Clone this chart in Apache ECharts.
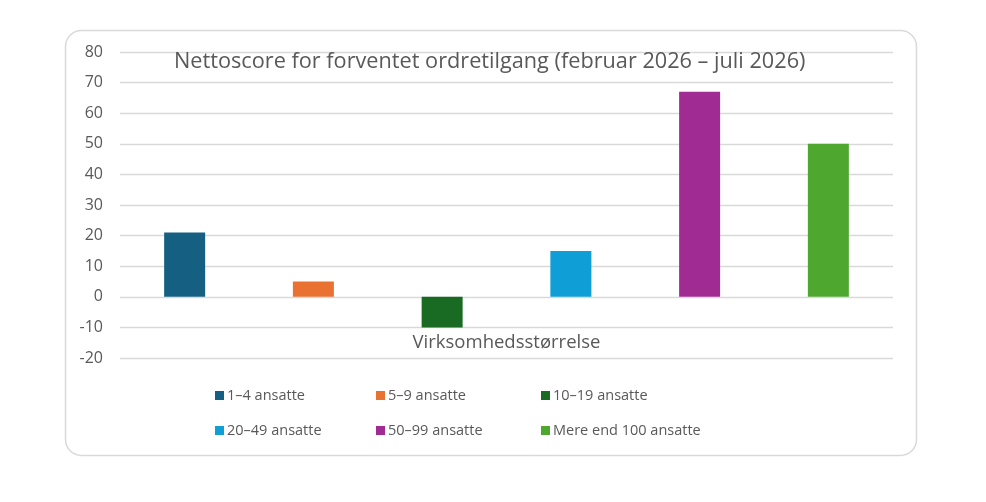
<!DOCTYPE html>
<html><head><meta charset="utf-8">
<script src="https://cdn.jsdelivr.net/npm/echarts@6/dist/echarts.min.js"></script>
<style>html,body{margin:0;padding:0;background:#fff}#c{width:986px;height:502px}</style>
</head><body><div id="c"></div>
<script>
const titleText = 'Nettoscore for forventet ordretilgang (februar 2026 – juli 2026)';
const categories = ['Virksomhedsstørrelse'];
const seriesNames = ['1–4 ansatte','5–9 ansatte','10–19 ansatte','20–49 ansatte','50–99 ansatte','Mere end 100 ansatte'];
const seriesValues = [21, 5, -10, 15, 67, 50];
const colors = ['#156082','#E97132','#196B24','#0F9ED5','#A02B93','#4EA72E'];
const yTicks = {min:-20, max:80, interval:10};

const FONT = 'Open Sans';
const TXT = '#595959';
const legendPos = [[215,388],[376,388],[541,388],[215,423],[376,423],[541,423]];

const chart = echarts.init(document.getElementById('c'), null, {renderer:'canvas'});
chart.setOption({
  animation:false,
  textStyle:{fontFamily:FONT},
  graphic:[{type:'rect',shape:{x:65.5,y:30.5,width:851,height:425,r:16},style:{fill:'none',stroke:'#d9d9d9',lineWidth:1.5},z:-1}],
  title:{text:titleText,left:174,top:50.5,padding:0,textStyle:{fontFamily:FONT,fontSize:21.7,fontWeight:'normal',color:TXT}},
  legend: seriesNames.map((n,i)=>({data:[n],left:legendPos[i][0],top:legendPos[i][1],icon:'rect',itemWidth:9,itemHeight:9,itemGap:3,
    textStyle:{fontFamily:FONT,fontSize:14.5,color:TXT,padding:[0,0,0,-2]},padding:0})),
  grid:{left:120,right:93,top:52,bottom:144,containLabel:false},
  xAxis:{type:'category',data:categories,position:'bottom',axisLine:{show:false},axisTick:{show:false},
    axisLabel:{fontFamily:FONT,fontSize:18.5,color:TXT,margin:-25}},
  yAxis:{type:'value',min:yTicks.min,max:yTicks.max,interval:yTicks.interval,
    axisLine:{show:false},axisTick:{show:false},
    axisLabel:{fontFamily:FONT,fontSize:16,color:TXT,margin:17},
    splitLine:{lineStyle:{color:'#d9d9d9',width:1.3}}},
  series: seriesNames.map((n,i)=>({name:n,type:'bar',data:[seriesValues[i]],barWidth:41,barGap:'214%',
    itemStyle:{color:colors[i]}}))
});
</script></body></html>
